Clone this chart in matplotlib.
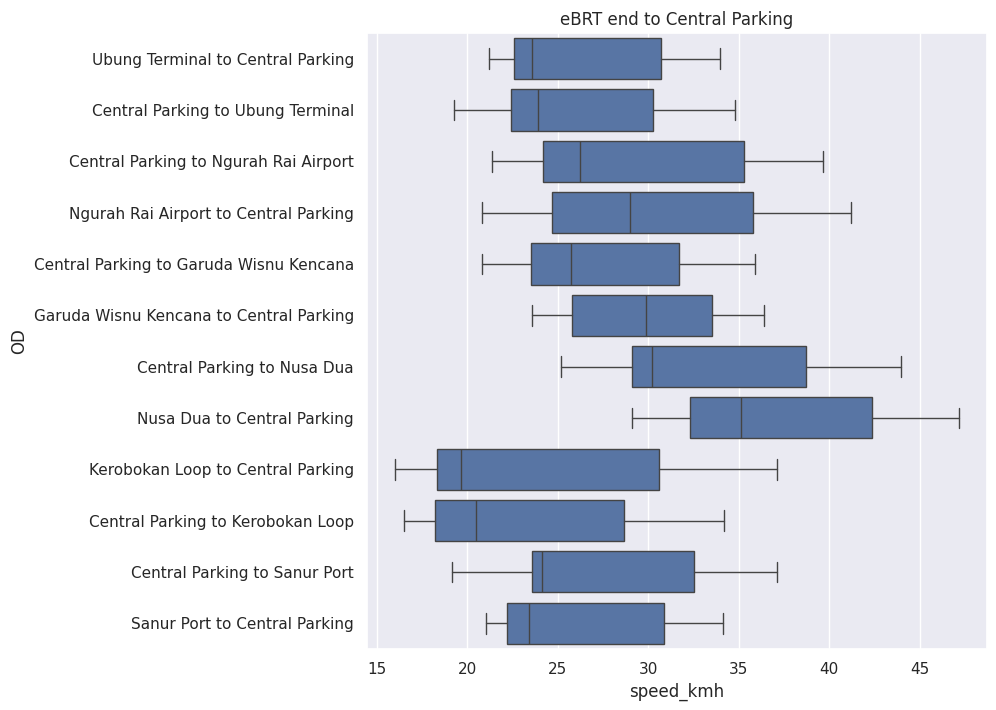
import matplotlib
matplotlib.use("Agg")
import matplotlib.pyplot as plt
import seaborn as sns

sns.set_theme(style="darkgrid")
plt.rcParams['font.family'] = ['DejaVu Sans']

categories = [
    "Ubung Terminal to Central Parking",
    "Central Parking to Ubung Terminal",
    "Central Parking to Ngurah Rai Airport",
    "Ngurah Rai Airport to Central Parking",
    "Central Parking to Garuda Wisnu Kencana",
    "Garuda Wisnu Kencana to Central Parking",
    "Central Parking to Nusa Dua",
    "Nusa Dua to Central Parking",
    "Kerobokan Loop to Central Parking",
    "Central Parking to Kerobokan Loop",
    "Central Parking to Sanur Port",
    "Sanur Port to Central Parking",
]
whislo = [21.17, 19.25, 21.35, 20.80, 20.80, 23.56, 25.17, 29.09, 15.98, 16.49, 19.14, 21.02]
q1     = [22.55, 22.40, 24.17, 24.67, 23.49, 25.77, 29.09, 32.31, 18.30, 18.19, 23.56, 22.18]
med    = [23.56, 23.91, 26.20, 28.98, 25.72, 29.86, 30.19, 35.13, 19.64, 20.45, 24.10, 23.40]
q3     = [30.71, 30.27, 35.31, 35.79, 31.70, 33.51, 38.72, 42.37, 30.60, 28.65, 32.53, 30.89]
whishi = [33.95, 34.78, 39.66, 41.21, 35.90, 36.40, 43.97, 47.19, 37.12, 34.19, 37.12, 34.12]

stats = []
for i, c in enumerate(categories):
    stats.append(dict(label=c, whislo=whislo[i], q1=q1[i], med=med[i],
                      q3=q3[i], whishi=whishi[i], fliers=[]))

fig = plt.figure(figsize=(9.96, 7.1), dpi=100)
ax = fig.add_axes([0.3685, 0.086, 0.6225, 0.8675])

line_c = "#444444"
face_c = "#5875a4"
lw = 1.0
ax.bxp(stats, positions=list(range(len(categories))), vert=False, widths=0.8,
       patch_artist=True, showfliers=False,
       boxprops=dict(facecolor=face_c, edgecolor=line_c, linewidth=lw),
       medianprops=dict(color=line_c, linewidth=lw),
       whiskerprops=dict(color=line_c, linewidth=lw),
       capprops=dict(color=line_c, linewidth=lw),
       capwidths=0.4)

ax.set_yticks(range(len(categories)))
ax.set_yticklabels(categories)
ax.set_ylim(len(categories) - 0.5, -0.5)
ax.set_xlim(14.45, 48.72)
ax.set_xticks([15, 20, 25, 30, 35, 40, 45])
ax.grid(False, axis="y")
ax.grid(True, axis="x", color="white")
ax.set_xlabel("speed_kmh")
ax.set_ylabel("OD")
ax.set_title("eBRT end to Central Parking")

fig.savefig("out.png", dpi=100)
